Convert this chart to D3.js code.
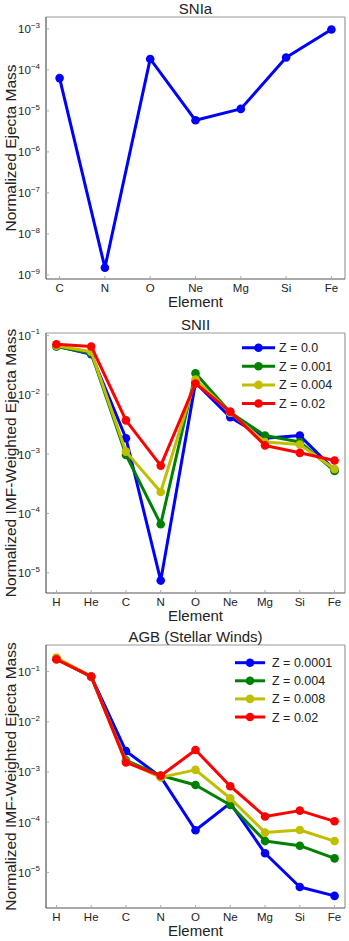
<!DOCTYPE html>
<html><head><meta charset="utf-8">
<script src="https://cdn.jsdelivr.net/npm/d3@7"></script>
<style>
html,body{margin:0;padding:0;background:#fff;}
svg{display:block;font-family:"Liberation Sans",Arial,sans-serif;}
</style></head>
<body><svg id="c" width="349" height="941"></svg>
<script>
// ---------- DATA ----------
const elementsIa = ["C","N","O","Ne","Mg","Si","Fe"];
const snIa = [6.3e-5, 1.5e-9, 1.85e-4, 5.9e-6, 1.12e-5, 2.0e-4, 9.7e-4];

const elementsII = ["H","He","C","N","O","Ne","Mg","Si","Fe"];
const snIILabels = ["Z = 0.0","Z = 0.001","Z = 0.004","Z = 0.02"];
const snII_Z0     = [0.066, 0.048, 1.85e-3, 7.4e-6, 0.016, 4.2e-3, 1.85e-3, 2.05e-3, 5.4e-4];
const snII_Z0001  = [0.065, 0.050, 9.7e-4, 6.6e-5, 0.023, 5.0e-3, 2.05e-3, 1.6e-3, 5.2e-4];
const snII_Z0004  = [0.067, 0.053, 1.1e-3, 2.3e-4, 0.018, 5.0e-3, 1.6e-3, 1.45e-3, 5.6e-4];
const snII_Z002   = [0.071, 0.065, 3.7e-3, 6.4e-4, 0.0155, 5.2e-3, 1.4e-3, 1.05e-3, 7.8e-4];

const elementsAGB = ["H","He","C","N","O","Ne","Mg","Si","Fe"];
const agbLabels = ["Z = 0.0001","Z = 0.004","Z = 0.008","Z = 0.02"];
const agb_Z00001 = [0.18, 0.080, 2.6e-3, 8.0e-4, 6.9e-5, 2.4e-4, 2.4e-5, 5.1e-6, 3.4e-6];
const agb_Z0004  = [0.18, 0.078, 1.7e-3, 8.5e-4, 5.5e-4, 2.2e-4, 4.2e-5, 3.4e-5, 1.9e-5];
const agb_Z0008  = [0.19, 0.080, 1.6e-3, 7.8e-4, 1.1e-3, 3.0e-4, 6.2e-5, 7.0e-5, 4.2e-5];
const agb_Z002   = [0.175, 0.080, 1.55e-3, 8.4e-4, 2.75e-3, 5.2e-4, 1.3e-4, 1.7e-4, 1.04e-4];

const ticksIa  = [-9,-8,-7,-6,-5,-4,-3];
const ticksII  = [-5,-4,-3,-2,-1];
const ticksAGB = [-5,-4,-3,-2,-1];

const colors = ["#0000ff","#008000","#bfbf00","#ff0000"];

// ---------- DRAW ----------
const svg = d3.select("#c");

function panel(o){
  const g = svg.append("g");
  const L=o.left, R=o.right, T=o.top, B=o.bottom;
  const n = o.cats.length;
  const x = d3.scaleLinear().domain([-0.3, n-1+0.3]).range([L,R]);
  const y = d3.scaleLog().domain([Math.pow(10,o.ymin), Math.pow(10,o.ymax)]).range([B,T]);

  // frame
  g.append("line").attr("x1",L).attr("x2",R).attr("y1",T).attr("y2",T).attr("stroke","#9a9a9a").attr("stroke-width",1.2);
  g.append("line").attr("x1",R).attr("x2",R).attr("y1",T).attr("y2",B).attr("stroke","#9a9a9a").attr("stroke-width",1.2);
  g.append("line").attr("x1",L).attr("x2",L).attr("y1",T).attr("y2",B).attr("stroke","#555").attr("stroke-width",1.2);
  g.append("line").attr("x1",L).attr("x2",R).attr("y1",B).attr("y2",B).attr("stroke","#555").attr("stroke-width",1.2);

  // x ticks
  o.cats.forEach((c,i)=>{
    g.append("line").attr("x1",x(i)).attr("x2",x(i)).attr("y1",B).attr("y2",B-3).attr("stroke","#aaa").attr("stroke-width",1);
    g.append("text").attr("x",x(i)).attr("y",B+13).attr("text-anchor","middle")
      .attr("font-size",11.5).attr("fill","#222").text(c);
  });
  // y ticks
  o.ticks.forEach(e=>{
    const yy = y(Math.pow(10,e));
    g.append("line").attr("x1",L).attr("x2",L+3).attr("y1",yy).attr("y2",yy).attr("stroke","#aaa").attr("stroke-width",1);
    const t = g.append("text").attr("x",L-6).attr("y",yy+4.5).attr("text-anchor","end").attr("fill","#222").attr("font-size",11.5);
    t.append("tspan").text("10");
    t.append("tspan").attr("dy",-5.5).attr("font-size",8).text("\u2212"+Math.abs(e));
  });
  // title
  g.append("text").attr("x",(L+R)/2).attr("y",T-3).attr("text-anchor","middle").attr("font-size",15).attr("fill","#222").text(o.title);
  // x label
  g.append("text").attr("x",(L+R)/2).attr("y",B+28).attr("text-anchor","middle").attr("font-size",15).attr("fill","#222").text("Element");
  // y label
  g.append("text").attr("transform",`translate(16,${(T+B)/2}) rotate(-90)`).attr("text-anchor","middle")
    .attr("font-size",15.5).attr("fill","#222").text(o.ylabel);

  const line = d3.line().x((d,i)=>x(i)).y(d=>y(d));
  o.series.forEach((s,k)=>{
    const col = o.colors[k];
    g.append("path").datum(s).attr("d",line).attr("fill","none").attr("stroke",col).attr("stroke-width",3).attr("stroke-linejoin","round");
    g.selectAll(null).data(s).enter().append("circle").attr("cx",(d,i)=>x(i)).attr("cy",d=>y(d)).attr("r",4.3).attr("fill",col);
  });

  if(o.legend){
    const lg = o.legend;
    o.legendLabels.forEach((lab,k)=>{
      const yy = lg.y + k*lg.dy;
      g.append("line").attr("x1",lg.x1).attr("x2",lg.x2).attr("y1",yy).attr("y2",yy).attr("stroke",o.colors[k]).attr("stroke-width",3);
      g.append("circle").attr("cx",(lg.x1+lg.x2)/2).attr("cy",yy).attr("r",4.3).attr("fill",o.colors[k]);
      g.append("text").attr("x",lg.tx).attr("y",yy+4.5).attr("font-size",12.5).attr("fill","#222").text(lab);
    });
  }
}

panel({left:46,right:345,top:17,bottom:279,cats:elementsIa,ymin:-9.1,ymax:-2.71,ticks:ticksIa,
  title:"SNIa",ylabel:"Normalized Ejecta Mass",series:[snIa],colors:[colors[0]]});

panel({left:46,right:345,top:333,bottom:593,cats:elementsII,ymin:-5.34,ymax:-0.96,ticks:ticksII,
  title:"SNII",ylabel:"Normalized IMF-Weighted Ejecta Mass",
  series:[snII_Z0,snII_Z0001,snII_Z0004,snII_Z002],colors:colors,
  legendLabels:snIILabels,legend:{x1:242,x2:275,tx:279,y:347.7,dy:18.6}});

panel({left:46,right:345,top:645,bottom:908,cats:elementsAGB,ymin:-5.71,ymax:-0.47,ticks:ticksAGB,
  title:"AGB (Stellar Winds)",ylabel:"Normalized IMF-Weighted Ejecta Mass",
  series:[agb_Z00001,agb_Z0004,agb_Z0008,agb_Z002],colors:colors,
  legendLabels:agbLabels,legend:{x1:235,x2:265,tx:272,y:662.7,dy:18.1}});
</script></body></html>
